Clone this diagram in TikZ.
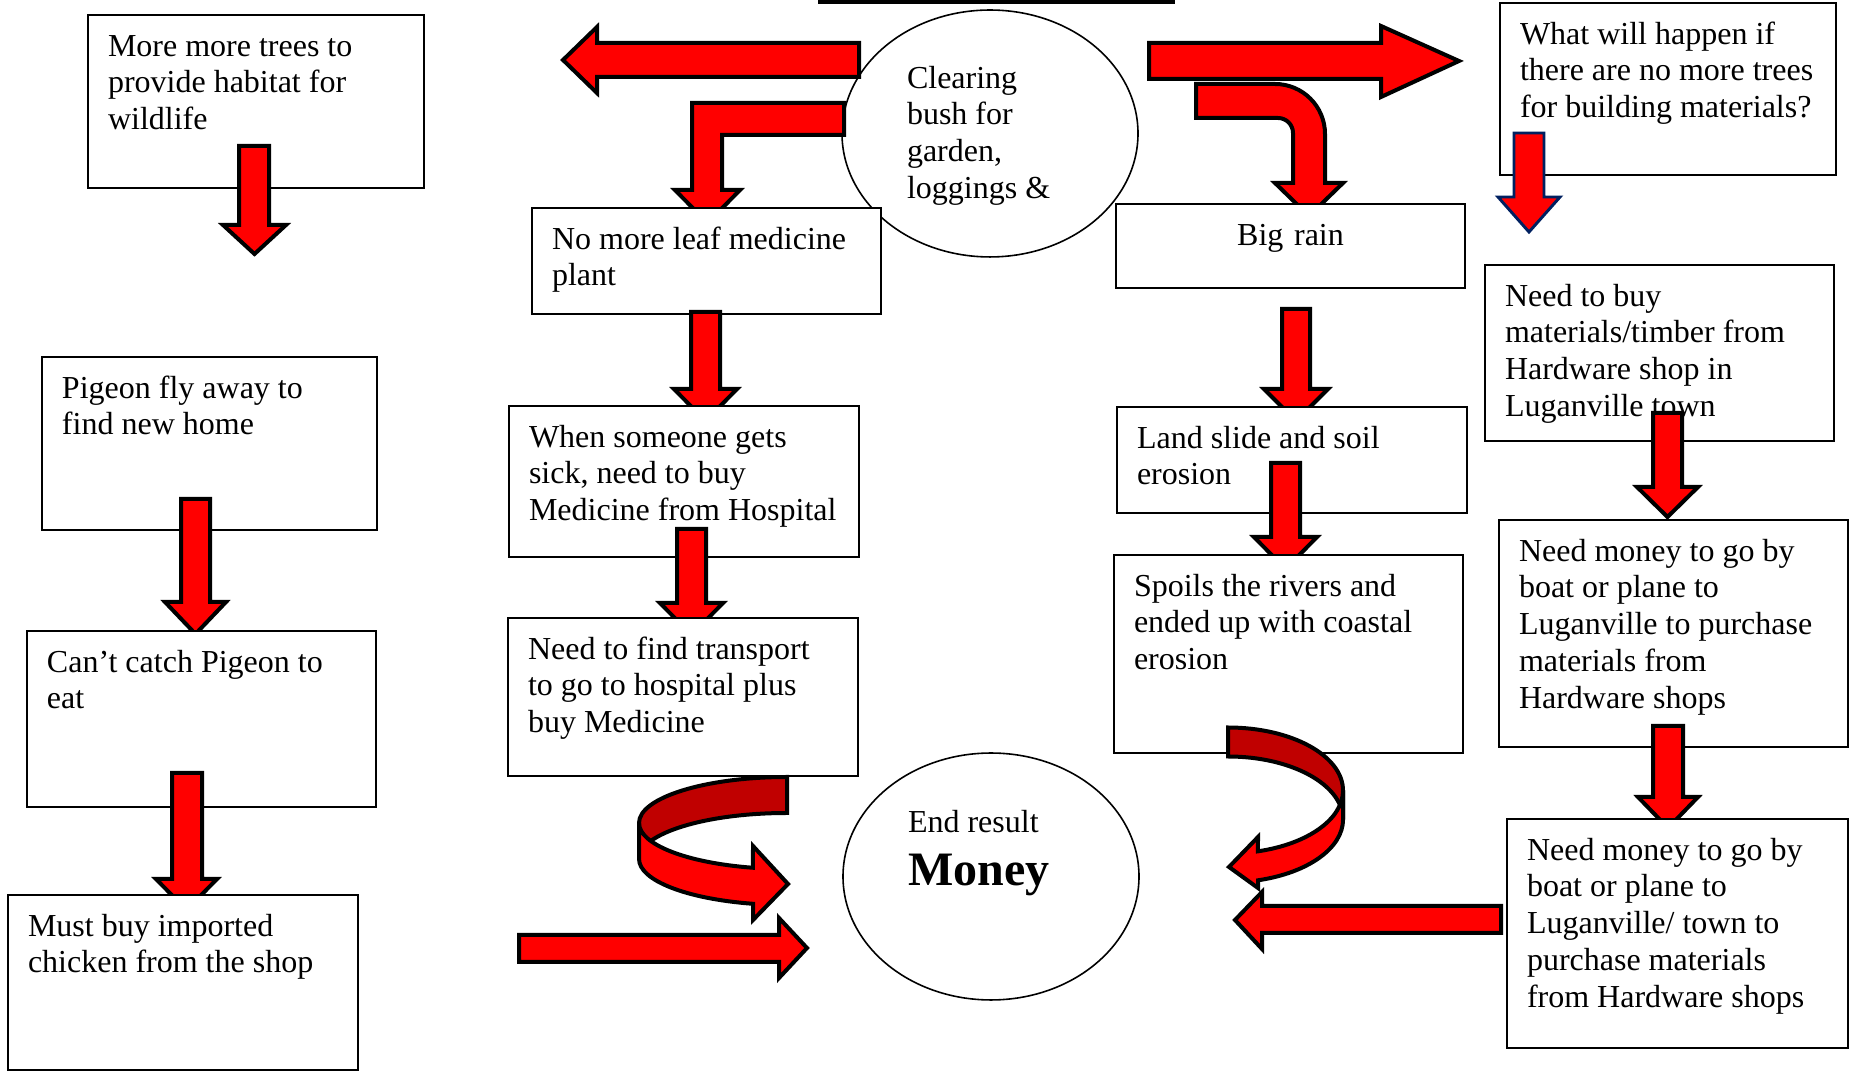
\documentclass[tikz,border=0pt]{standalone}
\usepackage{fontspec}
\setmainfont{Liberation Serif}
\usetikzlibrary{shapes.geometric}

\definecolor{arrowred}{RGB}{255,0,0}
\definecolor{backred}{RGB}{192,0,0}
\definecolor{navyline}{RGB}{0,32,96}

\begin{document}
\begin{tikzpicture}[x=0.375pt,y=0.375pt]
\tikzstyle{box}=[draw=black, fill=white, line width=0.6pt, anchor=north west, outer sep=0pt, align=flush left, inner xsep=7.5pt, inner ysep=0pt, text height=15.4pt, font=\fontsize{12}{13.8}\selectfont]
\tikzstyle{oval}=[ellipse, draw=black, fill=white, line width=0.6pt, inner sep=0pt, outer sep=0pt, minimum width=111pt, minimum height=92.6pt, align=flush left, font=\fontsize{12}{13.8}\selectfont]
\tikzstyle{block}=[draw=black, fill=arrowred, line width=1.5pt]
\tikzstyle{blockback}=[draw=black, fill=backred, line width=1.5pt]
\useasboundingbox (0,0) rectangle (1850,-1071);

\fill [black] (818,0) rectangle (1175,-4);

% top centre
\node [oval, text width=62.25pt, text height=8.2pt, text depth=42.2pt] (clearing) at (990,-133.5) {Clearing\\bush for\\garden,\\loggings \&};
\draw [block] (859,-43) -- (859,-77) -- (597,-77) -- (597,-93) -- (563,-60) -- (597,-27) -- (597,-43) -- cycle;
\draw [block] (1149,-43) -- (1381,-43) -- (1381,-26) -- (1459,-61) -- (1381,-97) -- (1381,-79) -- (1149,-79) -- cycle;
\draw [block] (844,-103) -- (692,-103) -- (692,-190) -- (675,-190) -- (707.5,-223) -- (740,-190) -- (722,-190) -- (722,-135) -- (844,-135) -- cycle;
\draw [block] (1196,-84) -- (1275,-84) arc[start angle=90, end angle=0, radius=50] -- (1325,-183) -- (1343,-183) -- (1309,-216) -- (1275,-183) -- (1293,-183) -- (1293,-133) arc[start angle=0, end angle=90, radius=15] -- (1196,-118) -- cycle;

% left column
\node [box, text width=111pt, text depth=49.5pt] (trees) at (88,-15) {More more trees to\\provide habitat for\\wildlife};
\draw [block] (239,-146) -- (269,-146) -- (269,-225) -- (286,-225) -- (254.5,-254) -- (223,-225) -- (239,-225) -- cycle;
\node [box, text width=110.6pt, text depth=49.5pt] (pigeon) at (42,-357) {Pigeon fly away to\\find new home};
\draw [block] (181,-499) -- (210,-499) -- (210,-602) -- (226,-602) -- (195.5,-634) -- (165,-602) -- (181,-602) -- cycle;
\node [box, text width=115.9pt, text depth=50.6pt] (catch) at (27,-631) {Can’t catch Pigeon to\\eat};
\draw [block] (172,-773) -- (202,-773) -- (202,-879) -- (217,-879) -- (186.5,-910) -- (156,-879) -- (172,-879) -- cycle;
\node [box, text width=116.25pt, text depth=50.2pt] (chicken) at (8,-895) {Must buy imported\\chicken from the shop};

% medicine column
\node [box, text width=115.9pt, text depth=24.35pt] (leaf) at (532,-208) {No more leaf medicine\\plant};
\draw [block] (691,-312) -- (720,-312) -- (720,-389) -- (737,-389) -- (705.5,-421) -- (674,-389) -- (691,-389) -- cycle;
\node [box, text width=116.25pt, text depth=41.2pt] (sick) at (509,-406) {When someone gets\\sick, need to buy\\Medicine from Hospital};
\draw [block] (677,-529) -- (706,-529) -- (706,-603) -- (723,-603) -- (691.5,-635) -- (660,-603) -- (677,-603) -- cycle;
\node [box, text width=116.25pt, text depth=43.85pt] (transport) at (508,-618) {Need to find transport\\to go to hospital plus\\buy Medicine};

% rain column
\node [box, align=center, text width=115.9pt, text depth=16.1pt] (rain) at (1116,-204) {Big rain};
\draw [block] (1282,-309) -- (1310,-309) -- (1310,-389) -- (1328,-389) -- (1296,-421) -- (1264,-389) -- (1282,-389) -- cycle;
\node [box, text width=116.25pt, text depth=24.35pt] (slide) at (1117,-407) {Land slide and soil\\erosion};
\draw [block] (1271,-463) -- (1300,-463) -- (1300,-537) -- (1317,-537) -- (1285.5,-569) -- (1254,-537) -- (1271,-537) -- cycle;
\node [box, text width=115.9pt, text depth=58.85pt] (rivers) at (1114,-555) {Spoils the rivers and\\ended up with coastal\\erosion};

% building column
\node [box, text width=111pt, text depth=49.1pt] (question) at (1500,-3) {What will happen if\\there are no more trees\\for building materials?};
\draw [block, draw=navyline, line width=1.1pt] (1514,-133) -- (1544,-133) -- (1544,-197) -- (1560,-197) -- (1529,-232) -- (1498,-197) -- (1514,-197) -- cycle;
\node [box, text width=115.9pt, text depth=50.6pt] (timber) at (1485,-265) {Need to buy\\materials/timber from\\Hardware shop in\\Luganville town};
\draw [block] (1653,-413) -- (1682,-413) -- (1682,-487) -- (1698,-487) -- (1667.5,-517) -- (1637,-487) -- (1653,-487) -- cycle;
\node [box, text width=115.9pt, text depth=69.7pt] (boatone) at (1499,-520) {Need money to go by\\boat or plane to\\Luganville to purchase\\materials from\\Hardware shops};
\draw [block] (1653,-726) -- (1683,-726) -- (1683,-797) -- (1698,-797) -- (1668,-828) -- (1638,-797) -- (1653,-797) -- cycle;
\node [box, text width=112.9pt, text depth=70.5pt] (boattwo) at (1507,-819) {Need money to go by\\boat or plane to\\Luganville/ town to\\purchase materials\\from Hardware shops};

% end result
\node [oval, text width=62.25pt, text height=8pt, text depth=41.1pt] (money) at (991,-876.5) {End result\\[6pt]{\fontsize{18}{20}\selectfont\bfseries Money}};
\draw [block] (519,-935) -- (779,-935) -- (779,-918) -- (807,-948) -- (779,-978) -- (779,-962) -- (519,-962) -- cycle;
\draw [block] (1501,-906) -- (1262,-906) -- (1262,-892) -- (1235,-920) -- (1262,-949) -- (1262,-933) -- (1501,-933) -- cycle;
\draw [blockback] (787,-777) arc[start angle=90, end angle=180, x radius=148, y radius=46] -- (639,-859) arc[start angle=180, end angle=90, x radius=148, y radius=46] -- cycle;
\draw [block] (639,-823) arc[start angle=180, end angle=256.7, x radius=148, y radius=46] -- (753,-846) -- (788,-884) -- (753,-920) -- (753,-903.8) arc[start angle=256.7, end angle=180, x radius=148, y radius=46] -- cycle;
\draw [blockback] (1228,-727.5) arc[start angle=90, end angle=0, x radius=115, y radius=63] -- (1343,-819.5) arc[start angle=0, end angle=90, x radius=115, y radius=63] -- cycle;
\draw [block] (1343,-790.5) arc[start angle=0, end angle=-74.9, x radius=115, y radius=63] -- (1258,-837) -- (1229,-867) -- (1258,-888) -- (1258,-880.3) arc[start angle=-74.9, end angle=0, x radius=115, y radius=63] -- cycle;
\end{tikzpicture}
\end{document}
